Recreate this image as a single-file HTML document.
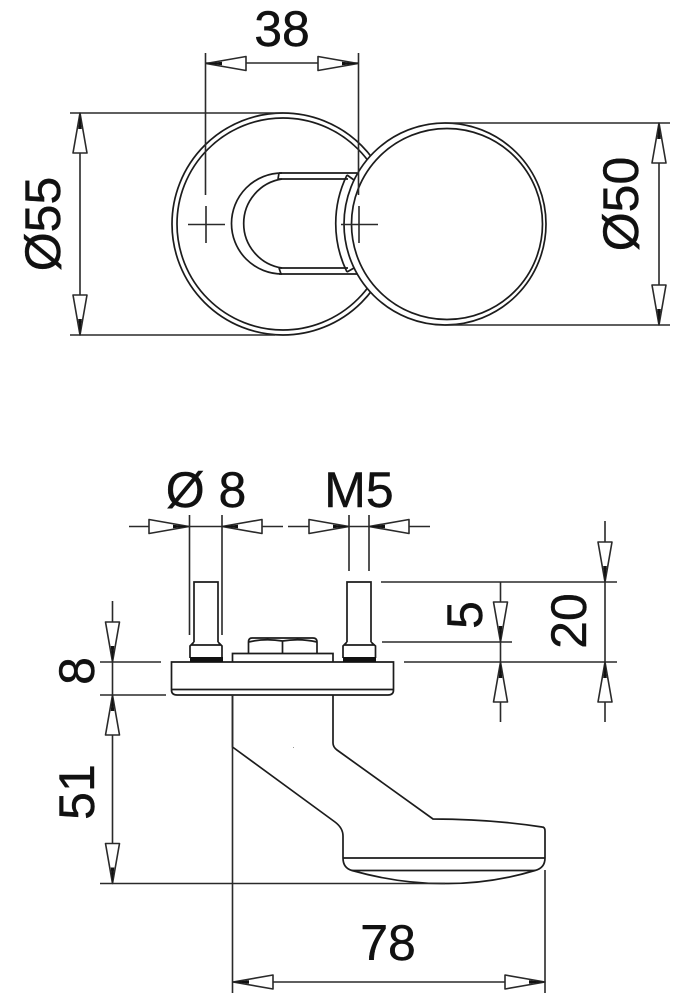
<!DOCTYPE html>
<html>
<head>
<meta charset="utf-8">
<style>
html,body{margin:0;padding:0;background:#fff}
svg{display:block}
text{font-family:"Liberation Sans",sans-serif;font-size:50px;fill:#111;stroke:#111;stroke-width:.4;text-anchor:middle}
.l{stroke:#1c1c1c;stroke-width:1.7;fill:none}
.d{stroke:#2a2a2a;stroke-width:1.6;fill:none}
.a{stroke:#2a2a2a;stroke-width:1.6;fill:#fff;stroke-linejoin:round}
</style>
</head>
<body>
<svg width="686" height="1000" viewBox="0 0 686 1000" xmlns="http://www.w3.org/2000/svg">
<defs>
<g id="ar"><path class="a" d="M0 0L40 -7V7Z"/><path d="M0 0L16 -1.8V1.8Z" fill="#111"/></g>
</defs>

<!-- top view -->
<circle class="l" cx="283" cy="224" r="111"/>
<circle class="l" cx="283" cy="224" r="106"/>
<path class="l" d="M282 173A50.500 50.500 0 0 0 282 274M282 179A45 45 0 0 0 282 268"/>
<path class="l" d="M279 173H357M279 179H348M279 268H348M279 274H357M279 173L278 179M279 268L281 274"/>
<path class="l" d="M347 175A110 110 0 0 0 347 272M347 175L354 180M347 272L354 268"/>
<circle cx="445" cy="224" r="101" fill="#fff" stroke="#1c1c1c" stroke-width="1.7"/>
<circle class="l" cx="447" cy="224" r="95.500"/>
<!-- top view dims -->
<path class="d" d="M205.500 53V195M358.500 53V195M205.500 63H358.500"/>
<path class="d" d="M188 224.500H225M206 206V243M341 224.500H378M359 206V243"/>
<path class="d" d="M70 113H283M70 335H275M80 113V335M445 123H670M445 325H670M659 123V325"/>
<use href="#ar" transform="translate(206 63.500)"/>
<use href="#ar" transform="translate(358 63.500) rotate(180)"/>
<use href="#ar" transform="translate(80 113) rotate(90)"/>
<use href="#ar" transform="translate(80 335) rotate(-90)"/>
<use href="#ar" transform="translate(659 123) rotate(90)"/>
<use href="#ar" transform="translate(659 325) rotate(-90)"/>
<text x="282" y="46">38</text>
<text transform="translate(60 224) rotate(-90)">Ø55</text>
<text transform="translate(638 204) rotate(-90)">Ø50</text>

<!-- side view: plate and bolts -->
<path class="l" d="M171.500 662H393.500V690Q393.500 695 388 695H177Q171.500 695 171.500 690Z"/>
<path class="l" d="M172 689.500H393"/>
<path class="l" d="M232.500 662V653.500H333V662"/>
<path class="l" d="M248.500 653.500V642Q248.500 638 252 638H313Q317 638 317 642V653.500M282.500 653.500V641M248.500 642Q265 638 282.500 641Q300 638 317 642"/>
<path class="l" d="M194 642V582H218V642M194 642L190 646V658M218 642L222 646V658M191 645H221"/>
<rect x="190" y="657" width="33" height="5" fill="#111"/>
<path class="l" d="M347 642V582H371V642M347 642L343 646V658M371 642L375.500 646V658M344 645H375"/>
<rect x="343" y="657" width="33" height="5" fill="#111"/>

<!-- handle -->
<path class="l" d="M232.500 695V747L335 822Q343 828 343 836V858Q343 868 352 870.500Q400 884 445 883.500Q490 884 535 870.500Q545 868 545 858V831Q545 827 542 827Q490 819 433 819L337 750Q333 747 333 743V695"/>
<path class="l" d="M343 858H545M352 870.500H535"/>
<rect x="293" y="747" width="1" height="1" fill="#999"/>

<!-- side view dims -->
<path class="d" d="M129 526.500H283M288 526.500H430M189.500 515V635M222 515V635M349 515V571M369 515V571"/>
<use href="#ar" transform="translate(189 526.500) scale(-1 1)"/>
<use href="#ar" transform="translate(222 526.500)"/>
<use href="#ar" transform="translate(349 526.500) scale(-1 1)"/>
<use href="#ar" transform="translate(369 526.500)"/>
<path class="d" d="M381 582H617M382 642H512M404 662H617M500.500 582V722M605 521V722"/>
<use href="#ar" transform="translate(500.500 642) rotate(-90)"/>
<use href="#ar" transform="translate(500.500 662) rotate(90)"/>
<use href="#ar" transform="translate(605 582) rotate(-90)"/>
<use href="#ar" transform="translate(605 662) rotate(90)"/>
<path class="d" d="M100 662H161M100 695H166M112.500 601V883.500M100 883.500H445"/>
<use href="#ar" transform="translate(112.500 662) rotate(-90)"/>
<use href="#ar" transform="translate(112.500 695) rotate(90)"/>
<use href="#ar" transform="translate(112.500 883.500) rotate(-90)"/>
<path class="d" d="M232.500 695V993M545 870V993M232.500 982H545"/>
<use href="#ar" transform="translate(233 982)"/>
<use href="#ar" transform="translate(545 982) rotate(180)"/>

<text x="206" y="507" xml:space="preserve">Ø 8</text>
<text x="359" y="507">M5</text>
<text x="388" y="960">78</text>
<text transform="translate(94 671) rotate(-90)">8</text>
<text transform="translate(94 792) rotate(-90)">51</text>
<text transform="translate(482 615) rotate(-90)">5</text>
<text transform="translate(586 621) rotate(-90)">20</text>
</svg>
</body>
</html>
